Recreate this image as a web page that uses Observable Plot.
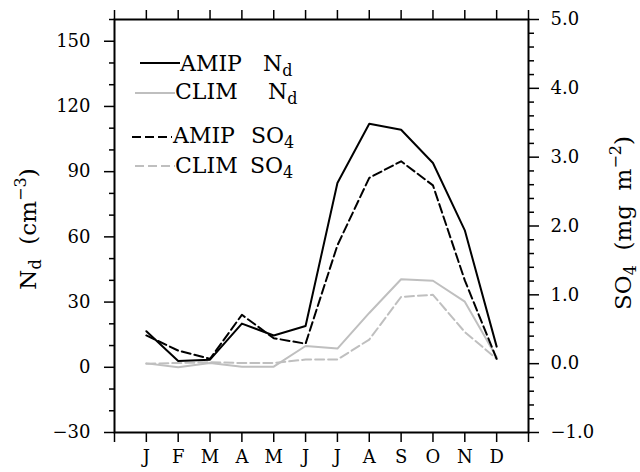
<!DOCTYPE html>
<html>
<head>
<meta charset="utf-8">
<script src="https://cdn.jsdelivr.net/npm/d3@7"></script>
<script src="https://cdn.jsdelivr.net/npm/@observablehq/plot@0.6"></script>
<style>
  body { margin: 0; background: #fff; }
  #wrap { position: relative; width: 640px; height: 472px; font-family: "DejaVu Serif", serif; }
  #overlay { position: absolute; left: 0; top: 0; pointer-events: none; }
</style>
</head>
<body>
<div id="wrap"></div>
<script>
// ---- data ----
const monthLabels = ["J","F","M","A","M","J","J","A","S","O","N","D"];
const ndAmip  = [16.6, 2.9, 3.5, 20.1, 14.6, 19.0, 84.8, 112.0, 109.3, 94.0, 63.0, 9.5];
const ndClim  = [1.8, 0.0, 2.0, 0.3, 0.3, 9.8, 8.6, 25.0, 40.5, 39.8, 30.2, 4.6];
const so4Amip = [0.41, 0.19, 0.07, 0.71, 0.37, 0.29, 1.72, 2.70, 2.94, 2.59, 1.21, 0.07];
const so4Clim = [0.00, 0.01, 0.02, 0.01, 0.01, 0.06, 0.06, 0.35, 0.97, 1.00, 0.46, 0.07];
const ndTicks = [-30, 0, 30, 60, 90, 120, 150];
const so4TickValues = [-1, 0, 1, 2, 3, 4, 5];

// ---- scales ----
const ndDomain = [-30, 160];
const so4Domain = [-1, 5];
const so4ToNd = v => ndDomain[0] + (v - so4Domain[0]) * (ndDomain[1] - ndDomain[0]) / (so4Domain[1] - so4Domain[0]);
const ndToSo4 = d => so4Domain[0] + (d - ndDomain[0]) * (so4Domain[1] - so4Domain[0]) / (ndDomain[1] - ndDomain[0]);

const rows = [];
const add = (arr, series, conv) => arr.forEach((v, i) => rows.push({month: i + 1, value: conv ? so4ToNd(v) : v, series}));
add(ndClim, "CLIM Nd", false);
add(so4Clim, "CLIM SO4", true);
add(ndAmip, "AMIP Nd", false);
add(so4Amip, "AMIP SO4", true);

const gray = "#bfbfbf";
const monthTicks = d3.range(0, 14);
const ndMinor = d3.range(-30, 161, 10).filter(v => !ndTicks.includes(v));
const so4Major = so4TickValues.map(so4ToNd);
const so4Minor = d3.range(-10, 51, 2).filter(v => v % 10 !== 0).map(v => so4ToNd(v / 10));
const fmtSo4 = d => {
  const v = Math.round(ndToSo4(d) * 10) / 10;
  return v.toFixed(1).replace("-", "\u2212");
};

const chart = Plot.plot({
  width: 640,
  height: 472,
  marginLeft: 114,
  marginRight: 112,
  marginTop: 19,
  marginBottom: 40,
  x: {domain: [0, 13]},
  y: {domain: ndDomain},
  style: {fontFamily: "DejaVu Serif", fontSize: "18px", color: "black", background: "white"},
  marks: [
    Plot.axisX({anchor: "bottom", ticks: monthTicks, tickSize: 10, tickPadding: 8, strokeWidth: 1.5,
      tickFormat: i => (i >= 1 && i <= 12 ? monthLabels[i - 1] : ""), label: null, fontSize: 18}),
    Plot.axisX({anchor: "top", ticks: monthTicks, tickSize: 10, strokeWidth: 1.5, tickFormat: () => "", label: null}),
    Plot.axisY({anchor: "left", ticks: ndTicks, tickSize: 10, tickPadding: 14, strokeWidth: 1.5, label: null, fontSize: 18}),
    Plot.axisY({anchor: "left", ticks: ndMinor, tickSize: 5, strokeWidth: 1.5, tickFormat: () => "", label: null}),
    Plot.axisY({anchor: "right", ticks: so4Major, tickSize: 10, tickPadding: 12, strokeWidth: 1.5, tickFormat: fmtSo4, label: null, fontSize: 18}),
    Plot.axisY({anchor: "right", ticks: so4Minor, tickSize: 5, strokeWidth: 1.5, tickFormat: () => "", label: null}),
    Plot.line(rows.filter(d => d.series === "CLIM Nd"), {x: "month", y: "value", stroke: gray, strokeWidth: 2}),
    Plot.line(rows.filter(d => d.series === "CLIM SO4"), {x: "month", y: "value", stroke: gray, strokeWidth: 2, strokeDasharray: "9,4"}),
    Plot.line(rows.filter(d => d.series === "AMIP Nd"), {x: "month", y: "value", stroke: "black", strokeWidth: 2}),
    Plot.line(rows.filter(d => d.series === "AMIP SO4"), {x: "month", y: "value", stroke: "black", strokeWidth: 2, strokeDasharray: "9,4"}),
    Plot.frame({stroke: "black", strokeWidth: 2})
  ]
});

const wrap = document.getElementById("wrap");
wrap.appendChild(chart);

// ---- legend and axis titles overlay ----
const legendItems = [
  {name: "AMIP", species: "N", sub: "d", color: "black", dash: null, lx0: 140, lx1: 180, ly: 63, tx: 180, ty: 71, sx: 263},
  {name: "CLIM", species: "N", sub: "d", color: gray, dash: null, lx0: 135, lx1: 175, ly: 93, tx: 175, ty: 99, sx: 268},
  {name: "AMIP", species: "SO", sub: "4", color: "black", dash: "9,4", lx0: 132, lx1: 172, ly: 137, tx: 173, ty: 143, sx: 251},
  {name: "CLIM", species: "SO", sub: "4", color: gray, dash: "9,4", lx0: 135, lx1: 175, ly: 166, tx: 175, ty: 173, sx: 250}
];

const svg = d3.select(wrap).append("svg")
  .attr("id", "overlay").attr("width", 640).attr("height", 472)
  .style("font-family", "DejaVu Serif");

legendItems.forEach(it => {
  svg.append("line")
    .attr("x1", it.lx0).attr("x2", it.lx1).attr("y1", it.ly).attr("y2", it.ly)
    .attr("stroke", it.color).attr("stroke-width", 2)
    .attr("stroke-dasharray", it.dash);
  svg.append("text").attr("x", it.tx).attr("y", it.ty)
    .attr("font-size", 22).text(it.name);
  const t = svg.append("text").attr("x", it.sx).attr("y", it.ty).attr("font-size", 22);
  t.append("tspan").text(it.species);
  t.append("tspan").attr("font-size", 16).attr("dy", 5).text(it.sub);
});

// left axis title
const lt = svg.append("text")
  .attr("transform", "translate(36,229) rotate(-90)")
  .attr("text-anchor", "middle").attr("font-size", 23);
lt.append("tspan").text("N");
lt.append("tspan").attr("font-size", 16).attr("dy", 5).text("d");
lt.append("tspan").attr("dy", -5).text("\u00a0\u00a0(cm");
lt.append("tspan").attr("font-size", 16).attr("dy", -10).text("\u22123");
lt.append("tspan").attr("dy", 10).text(")");

// right axis title
const rt = svg.append("text")
  .attr("transform", "translate(631,223) rotate(-90)")
  .attr("text-anchor", "middle").attr("font-size", 23);
rt.append("tspan").text("SO");
rt.append("tspan").attr("font-size", 16).attr("dy", 5).text("4");
rt.append("tspan").attr("dy", -5).text("\u00a0\u00a0(mg\u00a0\u00a0m");
rt.append("tspan").attr("font-size", 16).attr("dy", -10).text("\u22122");
rt.append("tspan").attr("dy", 10).text(")");
</script>
</body>
</html>
